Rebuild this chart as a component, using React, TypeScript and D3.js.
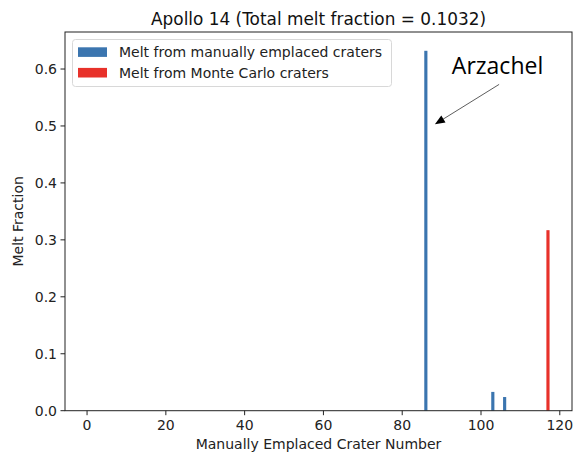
import * as d3 from "d3";
import React from "react";

// crater number / melt fraction (only the non-zero ones, the rest are 0)
const craterCount = 118;
const manualCraters = [86, 103, 106];
const manualMelt = [0.632, 0.033, 0.024];
const monteCarloCraters = [117];
const monteCarloMelt = [0.317];
const xTickValues = [0, 20, 40, 60, 80, 100, 120];
const yTickValues = [0.0, 0.1, 0.2, 0.3, 0.4, 0.5, 0.6];
const legendLabels = [
  "Melt from manually emplaced craters",
  "Melt from Monte Carlo craters",
];

const BLUE = "#3b75af";
const RED = "#e8312a";
const FONT = "DejaVu Sans, sans-serif";

export default function App() {
  const width = 574;
  const height = 455;
  const margin = { left: 65, right: 2, top: 32, bottom: 44.3 };

  const x = d3
    .scaleLinear()
    .domain([-5.6, 123.1])
    .range([margin.left, width - margin.right]);
  const y = d3
    .scaleLinear()
    .domain([0, 0.665])
    .range([height - margin.bottom, margin.top]);

  // full series, one bar per crater
  const bars = d3.range(craterCount).map((i) => {
    const m = manualCraters.indexOf(i);
    const c = monteCarloCraters.indexOf(i);
    if (c >= 0) return { id: i, value: monteCarloMelt[c], color: RED };
    return { id: i, value: m >= 0 ? manualMelt[m] : 0, color: BLUE };
  });

  const barW = x(0.4) - x(-0.4);
  const y0 = y(0);
  const axisColor = "#222";

  // annotation in data coordinates
  const arrowTip = { x: 88.3, y: 0.503 };
  const arrowTail = { x: 104.6, y: 0.573 };
  const labelPos = { x: 104.2, y: 0.591 };

  const tipX = x(arrowTip.x);
  const tipY = y(arrowTip.y);
  const tailX = x(arrowTail.x);
  const tailY = y(arrowTail.y);
  const ang = Math.atan2(tipY - tailY, tipX - tailX);
  const hl = 10;
  const hw = 4;
  const head = [
    [tipX, tipY],
    [
      tipX - hl * Math.cos(ang) + hw * Math.sin(ang),
      tipY - hl * Math.sin(ang) - hw * Math.cos(ang),
    ],
    [
      tipX - hl * Math.cos(ang) - hw * Math.sin(ang),
      tipY - hl * Math.sin(ang) + hw * Math.cos(ang),
    ],
  ];

  return (
    <svg
      width={width}
      height={height}
      style={{ position: "absolute", left: 0, top: 0, background: "white" }}
      fontFamily={FONT}
    >
      <rect x={0} y={0} width={width} height={height} fill="white" />
      <text
        x={(margin.left + width - margin.right) / 2}
        y={24.5}
        textAnchor="middle"
        fontSize="16.9"
        fill="#111"
      >
        Apollo 14 (Total melt fraction = 0.1032)
      </text>

      <g>
        {bars
          .filter((b) => b.value > 0)
          .map((b) => (
            <rect
              key={b.id}
              x={x(b.id) - barW / 2}
              y={y(b.value)}
              width={barW}
              height={y0 - y(b.value)}
              fill={b.color}
            />
          ))}
      </g>

      <rect
        x={margin.left}
        y={margin.top}
        width={width - margin.right - margin.left}
        height={y0 - margin.top}
        fill="none"
        stroke={axisColor}
        strokeWidth="1"
      />

      {xTickValues.map((t) => (
        <g key={"x" + t}>
          <line
            x1={x(t)}
            x2={x(t)}
            y1={y0}
            y2={y0 + 4.5}
            stroke={axisColor}
          />
          <text
            x={x(t)}
            y={y0 + 19.5}
            textAnchor="middle"
            fontSize="14"
            fill="#222"
          >
            {t}
          </text>
        </g>
      ))}
      {yTickValues.map((t) => (
        <g key={"y" + t}>
          <line
            x1={margin.left - 4.5}
            x2={margin.left}
            y1={y(t)}
            y2={y(t)}
            stroke={axisColor}
          />
          <text
            x={margin.left - 8}
            y={y(t)}
            textAnchor="end"
            dominantBaseline="central"
            fontSize="14"
            fill="#222"
          >
            {t.toFixed(1)}
          </text>
        </g>
      ))}

      <text
        x={(margin.left + width - margin.right) / 2}
        y={449}
        textAnchor="middle"
        fontSize="14"
        fill="#222"
      >
        Manually Emplaced Crater Number
      </text>
      <text
        transform={`translate(23,${(margin.top + y0) / 2}) rotate(-90)`}
        textAnchor="middle"
        fontSize="14"
        fill="#222"
      >
        Melt Fraction
      </text>

      <g>
        <rect
          x={72.5}
          y={39.5}
          width={319}
          height={47}
          rx={3}
          fill="white"
          fillOpacity={0.8}
          stroke="#d8d8d8"
        />
        {legendLabels.map((label, i) => (
          <g key={label}>
            <rect
              x={78}
              y={47.3 + i * 20.6}
              width={29}
              height={9.6}
              fill={i === 0 ? BLUE : RED}
            />
            <text
              x={119}
              y={52.1 + i * 20.6}
              dominantBaseline="central"
              fontSize="14"
              fill="#222"
            >
              {label}
            </text>
          </g>
        ))}
      </g>

      <line
        x1={tailX}
        y1={tailY}
        x2={tipX - (hl - 1) * Math.cos(ang)}
        y2={tipY - (hl - 1) * Math.sin(ang)}
        stroke="#333"
        strokeWidth="0.8"
      />
      <polygon points={head.map((p) => p.join(",")).join(" ")} fill="black" />
      <text
        x={x(labelPos.x)}
        y={y(labelPos.y)}
        textAnchor="middle"
        fontSize="23"
        fontFamily="Open Sans, sans-serif"
        fill="black"
      >
        Arzachel
      </text>
    </svg>
  );
}
